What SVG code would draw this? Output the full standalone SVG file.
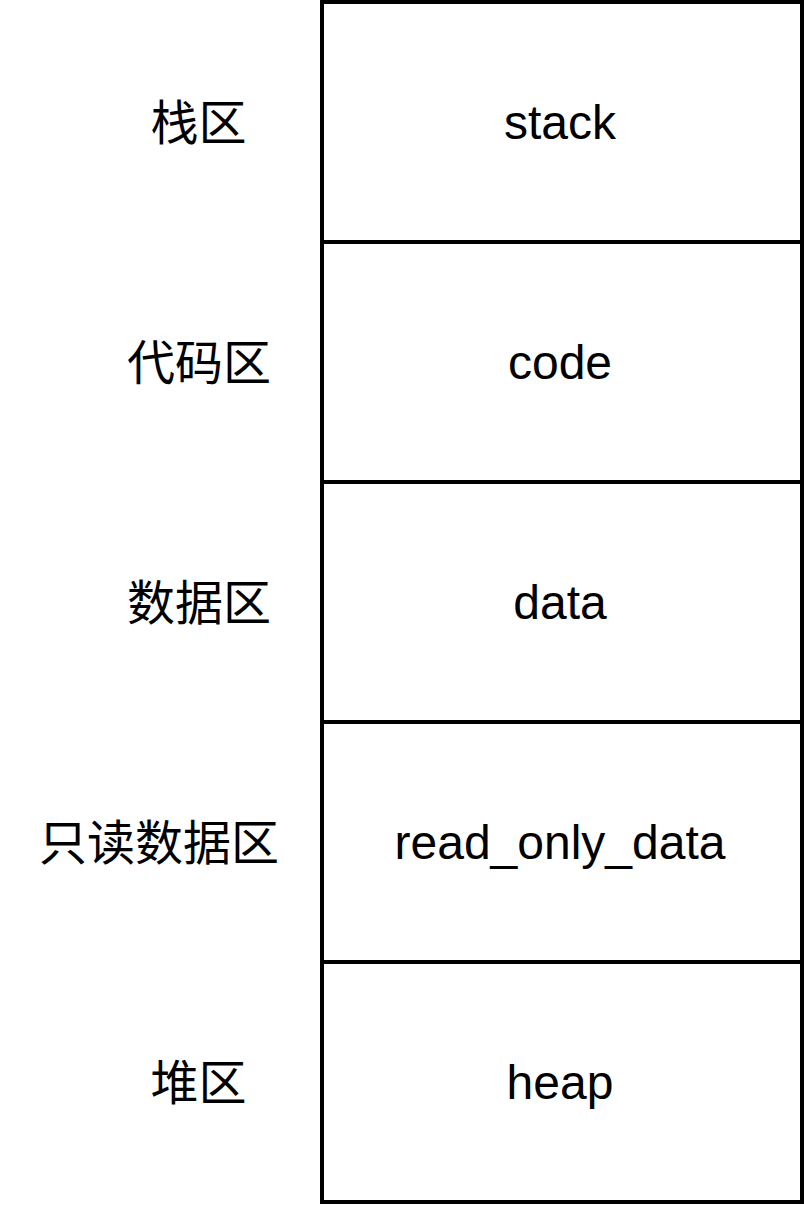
<svg xmlns="http://www.w3.org/2000/svg" width="804" height="1208" viewBox="0 0 804 1208">
<style>
.cell{fill:#ffffff;stroke:#000000;stroke-width:4}
.en{font-family:"Liberation Sans",Arial,sans-serif;font-size:48px;fill:#000;text-anchor:middle}
.zh{font-family:"Noto Sans CJK SC","Liberation Sans",sans-serif;font-size:48px;fill:#000;text-anchor:middle}
</style>
<rect width="804" height="1208" fill="#ffffff"/>
<g id="stack"><rect class="cell" x="322" y="2" width="480" height="240"/><text class="en" x="560" y="139">stack</text></g>
<g id="code"><rect class="cell" x="322" y="242" width="480" height="240"/><text class="en" x="560" y="379">code</text></g>
<g id="data"><rect class="cell" x="322" y="482" width="480" height="240"/><text class="en" x="560" y="619">data</text></g>
<g id="read_only_data"><rect class="cell" x="322" y="722" width="480" height="240"/><text class="en" x="560" y="859">read_only_data</text></g>
<g id="heap"><rect class="cell" x="322" y="962" width="480" height="240"/><text class="en" x="560" y="1099">heap</text></g>
<g id="label-stack"><text class="zh" x="198.5" y="140">栈区</text></g>
<g id="label-code"><text class="zh" x="199" y="380">代码区</text></g>
<g id="label-data"><text class="zh" x="199" y="620">数据区</text></g>
<g id="label-rodata"><text class="zh" x="159" y="860">只读数据区</text></g>
<g id="label-heap"><text class="zh" x="198.5" y="1100">堆区</text></g>
<g id="connectors"></g>
</svg>
